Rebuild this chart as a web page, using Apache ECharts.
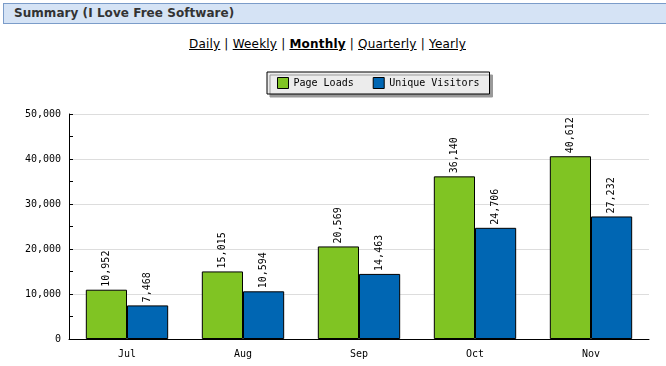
<!DOCTYPE html>
<html>
<head>
<meta charset="utf-8">
<script src="https://cdn.jsdelivr.net/npm/echarts@6/dist/echarts.min.js"></script>
<style>
  html, body { margin: 0; padding: 0; background: #fff; }
  #wrap { position: relative; width: 666px; height: 366px; overflow: hidden; }
  #hdr { position: absolute; left: 3px; top: 3px; width: 670px; height: 19px;
         background: #d5e3f5; border: 1px solid #7b9cc9; box-sizing: content-box; }
  #hdr span { position: absolute; left: 10px; top: 2px; font: bold 12px "DejaVu Sans", Verdana, sans-serif; color: #333; letter-spacing: 0.05px; }
  #nav { position: absolute; left: 0; width: 655px; top: 37px; text-align: center;
         font: 12px "DejaVu Sans", Verdana, sans-serif; color: #000; letter-spacing: 0.2px; }
  #nav a { color: #000; text-decoration: underline; }
  #nav b a { font-weight: bold; }
  #chart { position: absolute; left: 0; top: 0; width: 666px; height: 366px; }
</style>
</head>
<body>
<div id="wrap">
  <div id="hdr"><span>Summary (I Love Free Software)</span></div>
  <div id="nav"><a>Daily</a> | <a>Weekly</a> | <b><a>Monthly</a></b> | <a>Quarterly</a> | <a>Yearly</a></div>
  <div id="chart"></div>
</div>
<script>
const categories = ['Jul', 'Aug', 'Sep', 'Oct', 'Nov'];
const pageLoads = [10952, 15015, 20569, 36140, 40612];
const uniqueVisitors = [7468, 10594, 14463, 24706, 27232];
const seriesNames = ['Page Loads', 'Unique Visitors'];
const colors = ['#80c423', '#0066b3'];

const mono = '"DejaVu Sans Mono", monospace';
const fmt = v => v.toLocaleString('en-US');

const chart = echarts.init(document.getElementById('chart'), null, { renderer: 'canvas' });
const labelOpt = {
  show: true, position: 'top', rotate: 90, align: 'left', verticalAlign: 'middle',
  distance: 3, fontFamily: mono, fontSize: 10, color: '#000',
  formatter: p => fmt(p.value)
};
chart.setOption({
  animation: false,
  legend: {
    left: 267, top: 72,
    padding: [5, 10, 5, 10],
    itemGap: 19, itemWidth: 11, itemHeight: 11,
    icon: 'rect',
    backgroundColor: '#ececec', borderColor: '#000', borderWidth: 1,
    shadowColor: '#999', shadowOffsetX: 3, shadowOffsetY: 3, shadowBlur: 0,
    itemStyle: { borderColor: '#000', borderWidth: 1 },
    textStyle: { fontFamily: mono, fontSize: 10, color: '#000' },
    data: seriesNames
  },
  grid: { left: 69, right: 17, top: 114, bottom: 27, containLabel: false },
  xAxis: {
    type: 'category', data: categories,
    axisLine: { lineStyle: { color: '#000', width: 1 } },
    axisTick: { inside: true, length: 5, lineStyle: { color: '#000' } },
    axisLabel: { fontFamily: mono, fontSize: 10, color: '#000', margin: 10 }
  },
  yAxis: {
    type: 'value', min: 0, max: 50000, interval: 10000,
    axisLine: { show: true, lineStyle: { color: '#000', width: 1 } },
    axisTick: { show: true, inside: true, length: 4, lineStyle: { color: '#000' } },
    minorTick: { show: true, splitNumber: 2, length: 4, lineStyle: { color: '#000' } },
    splitLine: { show: true, lineStyle: { color: '#dddddd', width: 1 } },
    axisLabel: { fontFamily: mono, fontSize: 10, color: '#000', margin: 8, formatter: v => fmt(v) }
  },
  series: [
    { name: seriesNames[0], type: 'bar', data: pageLoads, barGap: '0%', barCategoryGap: '29%',
      itemStyle: { color: colors[0], borderColor: '#000', borderWidth: 1 }, label: labelOpt },
    { name: seriesNames[1], type: 'bar', data: uniqueVisitors, barGap: '0%', barCategoryGap: '29%',
      itemStyle: { color: colors[1], borderColor: '#000', borderWidth: 1 }, label: labelOpt }
  ]
});
</script>
</body>
</html>
